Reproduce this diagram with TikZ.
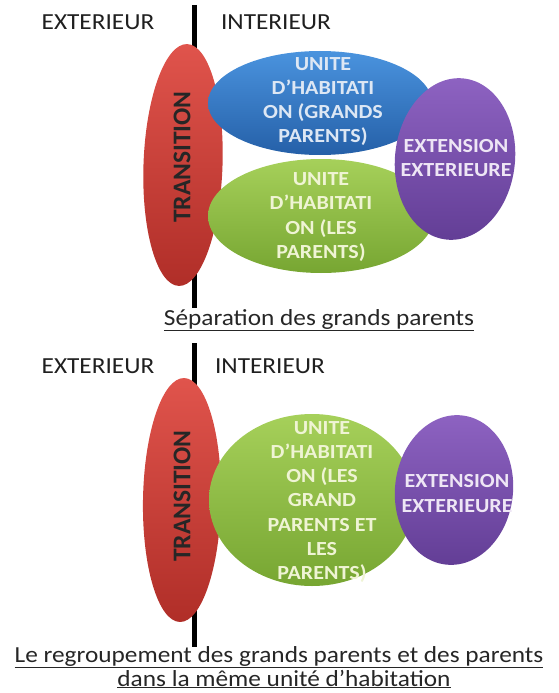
\documentclass[tikz,border=0pt]{standalone}
\usepackage{fontspec}
\setmainfont{Carlito}[FakeStretch=1.1]
\newfontfamily\transfont{Carlito}
\usetikzlibrary{shapes.geometric,calc}
\definecolor{redT}{HTML}{E0544C}
\definecolor{redM}{HTML}{CF3B33}
\definecolor{redB}{HTML}{B02E28}
\definecolor{bluT}{HTML}{4A93DE}
\definecolor{bluM}{HTML}{2F74C4}
\definecolor{bluB}{HTML}{2560A8}
\definecolor{grnT}{HTML}{A6D05A}
\definecolor{grnM}{HTML}{8CBF3E}
\definecolor{grnB}{HTML}{77A632}
\definecolor{purT}{HTML}{8E63C2}
\definecolor{purM}{HTML}{774CAE}
\definecolor{purB}{HTML}{633E96}
\definecolor{bluTxt}{HTML}{DDE7F4}
\definecolor{grnTxt}{HTML}{EFF4D4}
\definecolor{purTxt}{HTML}{EEE6F5}
\begin{document}
\begin{tikzpicture}[x=1pt,y=-1pt,
  hdr/.style={font=\fontsize{23}{27}\selectfont, text=black!88, anchor=base, inner sep=0},
  captxt/.style={font=\fontsize{23}{27}\selectfont, text=black!85, anchor=base, inner sep=0},
  blob/.style={ellipse, inner sep=0, draw=none},
  redblob/.style={blob, top color=redT, middle color=redM, bottom color=redB},
  blueblob/.style={blob, top color=bluT, middle color=bluM, bottom color=bluB},
  greenblob/.style={blob, top color=grnT, middle color=grnM, bottom color=grnB},
  purpleblob/.style={blob, top color=purT, middle color=purM, bottom color=purB},
  lbl/.style={font=\bfseries\fontsize{20}{24.3}\selectfont, align=center, inner sep=0},
  trans/.style={font=\transfont\bfseries\fontsize{25.5}{30}\selectfont, text=black!85, rotate=90, inner sep=0},
  wall/.style={line width=5pt, black}
]
\useasboundingbox (0,0) rectangle (558,693);
% ---------- top diagram ----------
\coordinate (w1a) at (194.5,5);
\coordinate (w1b) at (194.5,308);
\draw[wall] (w1a) -- (w1b);
\node[hdr] (ext1) at (98,30) {EXTERIEUR};
\node[hdr] (int1) at (276,30) {INTERIEUR};
\node[redblob, minimum width=79pt, minimum height=242pt, rotate=-2] (tr1) at (183,165) {};
\node[trans] (tr1t) at (182,157) {TRANSITION};
\node[blueblob, minimum width=224pt, minimum height=104pt] (gp1) at (320,103) {};
\node[lbl, text=bluTxt] (gp1t) at (323,101.5) {UNITE\\D’HABITATI\\ON (GRANDS\\PARENTS)};
\node[greenblob, minimum width=226pt, minimum height=114pt] (pa1) at (321,216) {};
\node[lbl, text=grnTxt] (pa1t) at (321,217) {UNITE\\D’HABITATI\\ON (LES\\PARENTS)};
\node[purpleblob, minimum width=120pt, minimum height=162pt, rotate=-6] (ex1) at (455,159) {};
\node[lbl, text=purTxt] (ex1t) at (456,158) {EXTENSION\\EXTERIEURE};
\node[captxt] (cap1) at (319,325) {\underline{Séparation des grands parents}};
% ---------- bottom diagram ----------
\coordinate (w2a) at (194.5,343);
\coordinate (w2b) at (194.5,647);
\draw[wall] (w2a) -- (w2b);
\node[hdr] (ext2) at (98,373) {EXTERIEUR};
\node[hdr] (int2) at (270,373) {INTERIEUR};
\node[redblob, minimum width=78pt, minimum height=244pt, rotate=-1] (tr2) at (182,500) {};
\node[trans] (tr2t) at (182,496) {TRANSITION};
\node[greenblob, minimum width=206pt, minimum height=172pt] (all2) at (312,500) {};
\node[lbl, text=grnTxt] (all2t) at (322,502) {UNITE\\D’HABITATI\\ON (LES\\GRAND\\PARENTS ET\\LES\\PARENTS)};
\node[purpleblob, minimum width=118pt, minimum height=150pt, rotate=-6] (ex2) at (454,490) {};
\node[lbl, text=purTxt] (ex2t) at (457,493.5) {EXTENSION\\EXTERIEURE};
\node[captxt] (cap2a) at (279,662) {\underline{Le regroupement des grands parents et des parents}};
\node[captxt] (cap2b) at (284,686) {\underline{dans la même unité d’habitation}};
\end{tikzpicture}
\end{document}
